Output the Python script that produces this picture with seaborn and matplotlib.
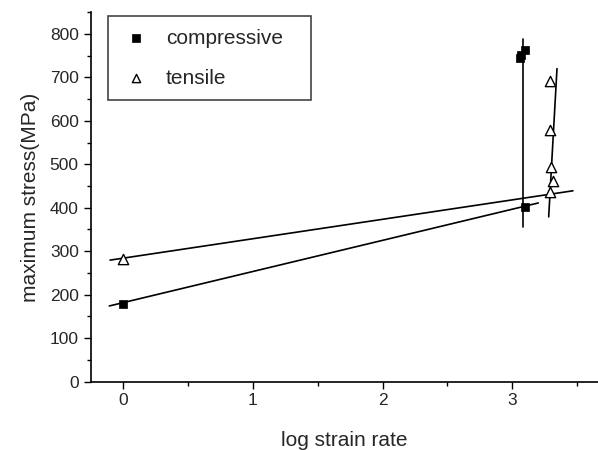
import numpy as np
import pandas as pd
import matplotlib
matplotlib.use("Agg")
import matplotlib.pyplot as plt
import seaborn as sns
from matplotlib.ticker import MultipleLocator

# Measured maximum stress (MPa) against log strain rate
comp_x = [0.0, 3.094, 3.056, 3.07, 3.10]
comp_y = [178, 401, 745, 752, 764]
tens_x = [0.0, 3.287, 3.31, 3.30, 3.29, 3.287]
tens_y = [281, 437, 462, 494, 580, 692]

# Linear fit segments (start/end) for each regime
comp_fit_low_x = [-0.106, 3.20]
comp_fit_low_y = [174, 411]
comp_fit_high_x = [3.08, 3.08]
comp_fit_high_y = [355, 789]
tens_fit_low_x = [-0.10, 3.467]
tens_fit_low_y = [279.5, 439]
tens_fit_high_x = [3.28, 3.344]
tens_fit_high_y = [379, 720]

sns.set_style("ticks")
plt.rcParams["font.family"] = ["Liberation Sans", "DejaVu Sans"]

fig = plt.figure(figsize=(5.98, 4.5), dpi=100)
ax = fig.add_axes([0.1515, 0.152, 0.8485, 0.821])

for fx, fy in [(comp_fit_low_x, comp_fit_low_y), (comp_fit_high_x, comp_fit_high_y),
               (tens_fit_low_x, tens_fit_low_y), (tens_fit_high_x, tens_fit_high_y)]:
    seg = pd.DataFrame({"x": fx, "y": fy})
    sns.lineplot(data=seg, x="x", y="y", ax=ax, color="black", linewidth=1.2,
                 sort=False, estimator=None)

comp = pd.DataFrame({"x": comp_x, "y": comp_y})
tens = pd.DataFrame({"x": tens_x, "y": tens_y})
sns.scatterplot(data=comp, x="x", y="y", ax=ax, marker="s", s=40, color="black",
                edgecolor="black", linewidth=0.5, label="compressive", zorder=3)
sns.scatterplot(data=tens, x="x", y="y", ax=ax, marker="^", s=55, facecolor="white",
                edgecolor="black", linewidth=1.0, label="tensile", zorder=3)

ax.set_xlim(-0.25, 3.66)
ax.set_ylim(0, 850)
ax.xaxis.set_major_locator(MultipleLocator(1))
ax.xaxis.set_minor_locator(MultipleLocator(0.5))
ax.yaxis.set_major_locator(MultipleLocator(100))
ax.yaxis.set_minor_locator(MultipleLocator(50))
ax.tick_params(which="major", direction="out", length=5, width=1.0, labelsize=12.5, color="black")
ax.tick_params(which="minor", direction="out", length=3, width=1.0, color="black")
for side in ["top", "right"]:
    ax.spines[side].set_visible(False)
for side in ["left", "bottom"]:
    ax.spines[side].set_linewidth(1.2)
    ax.spines[side].set_color("black")

ax.set_xlabel("log strain rate", fontsize=15, labelpad=16)
ax.set_ylabel("maximum stress(MPa)", fontsize=15, labelpad=7)

# Legend box stretched to a fixed width in axes coordinates
leg = ax.legend(loc="upper left", bbox_to_anchor=(0.035, 0.989, 0.40, 0.0),
                mode="expand", fontsize=15,
                frameon=True, fancybox=False, edgecolor="#444444", framealpha=1,
                borderpad=0.6, handletextpad=0.7, labelspacing=1.0, handlelength=1.45,
                markerscale=0.8, borderaxespad=0)
leg.get_frame().set_linewidth(1.2)

fig.savefig("out.png", dpi=100)
